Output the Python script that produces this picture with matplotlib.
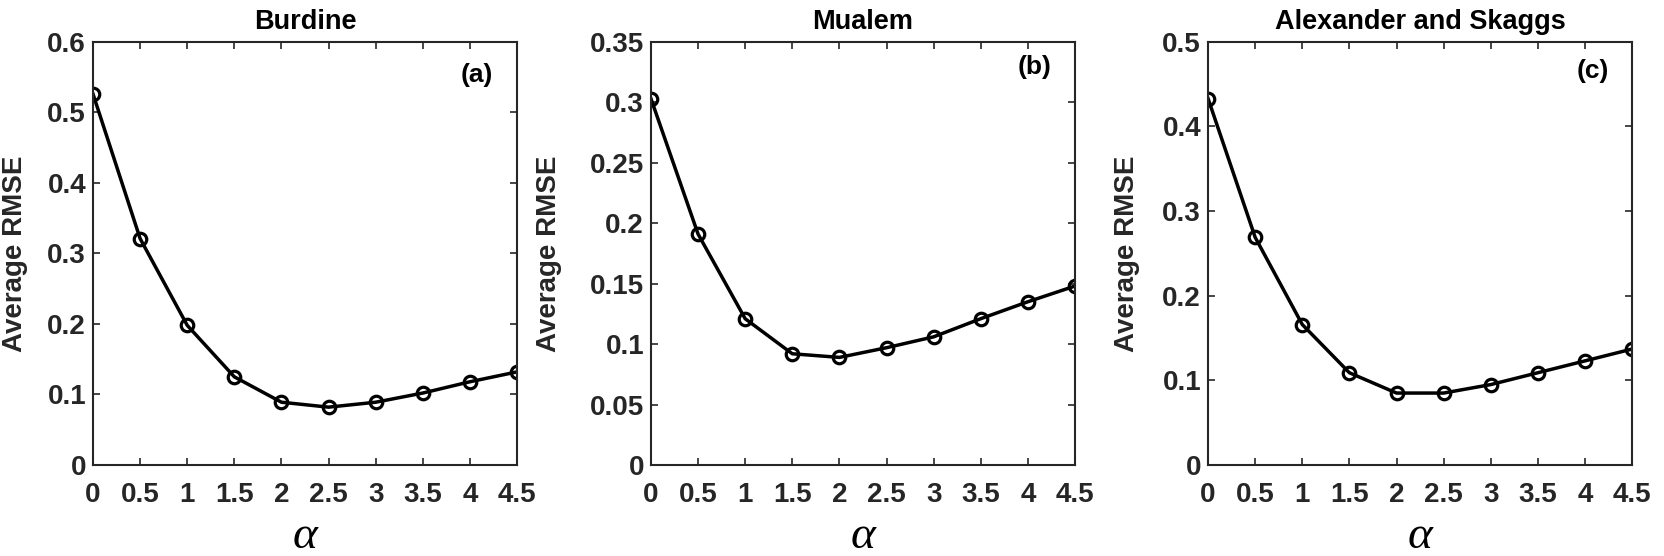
import matplotlib.pyplot as plt

plt.rcParams['font.family'] = ['Liberation Sans', 'DejaVu Sans']
plt.rcParams['font.weight'] = 'bold'

alpha = [0, 0.5, 1, 1.5, 2, 2.5, 3, 3.5, 4, 4.5]

rmse_burdine = [0.526, 0.321, 0.198, 0.125, 0.089, 0.082, 0.089, 0.102, 0.118, 0.132]
rmse_mualem = [0.303, 0.191, 0.121, 0.092, 0.089, 0.097, 0.106, 0.121, 0.135, 0.148]
rmse_as = [0.433, 0.269, 0.166, 0.109, 0.085, 0.085, 0.095, 0.109, 0.123, 0.137]

titles = ['Burdine', 'Mualem', 'Alexander and Skaggs']
tags = ['(a)', '(b)', '(c)']
ymax = [0.6, 0.35, 0.5]
ystep = [0.1, 0.05, 0.1]
ylab_x = [-0.153, -0.21, -0.16]
tag_pos = [(0.906, 0.922), (0.905, 0.94), (0.908, 0.93)]

TXT = '#262626'

fig = plt.figure(figsize=(16.64, 5.56), dpi=100)
lefts = [0.0559, 0.3912, 0.726]

for i, series in enumerate([rmse_burdine, rmse_mualem, rmse_as]):
    ax = fig.add_axes([lefts[i], 0.1637, 0.2548, 0.761])
    ax.plot(alpha, series, '-o', color='black', linewidth=2.5,
            markersize=9, markerfacecolor='none', markeredgewidth=2.3)
    ax.set_xlim(0, 4.5)
    ax.set_ylim(0, ymax[i])
    ax.set_xticks(alpha)
    ax.set_xticklabels(['%g' % a for a in alpha])
    n = int(round(ymax[i] / ystep[i]))
    yt = [round(k * ystep[i], 2) for k in range(n + 1)]
    ax.set_yticks(yt)
    ax.set_yticklabels(['%g' % v for v in yt])
    ax.tick_params(direction='in', top=True, right=True, length=5,
                   width=1.2, colors=TXT, labelsize=20)
    ax.tick_params(axis='x', pad=12)
    ax.tick_params(axis='y', pad=5)
    for s in ax.spines.values():
        s.set_linewidth(1.5)
        s.set_color(TXT)
    ax.set_title(titles[i], fontsize=19.5, fontweight='bold', pad=9)
    ax.set_ylabel('Average RMSE', fontsize=20, fontweight='bold', color=TXT)
    ax.yaxis.set_label_coords(ylab_x[i], 0.5)
    # greek alpha in a serif italic, normal weight
    ax.set_xlabel('α', fontsize=34, fontfamily=['Liberation Serif', 'DejaVu Serif'],
                  fontstyle='italic', fontweight='normal', va='center')
    ax.xaxis.set_label_coords(0.5, -0.17)
    ax.text(tag_pos[i][0], tag_pos[i][1], tags[i], transform=ax.transAxes,
            ha='center', va='center', fontsize=19, fontweight='bold')

fig.savefig('out.png', dpi=100)
